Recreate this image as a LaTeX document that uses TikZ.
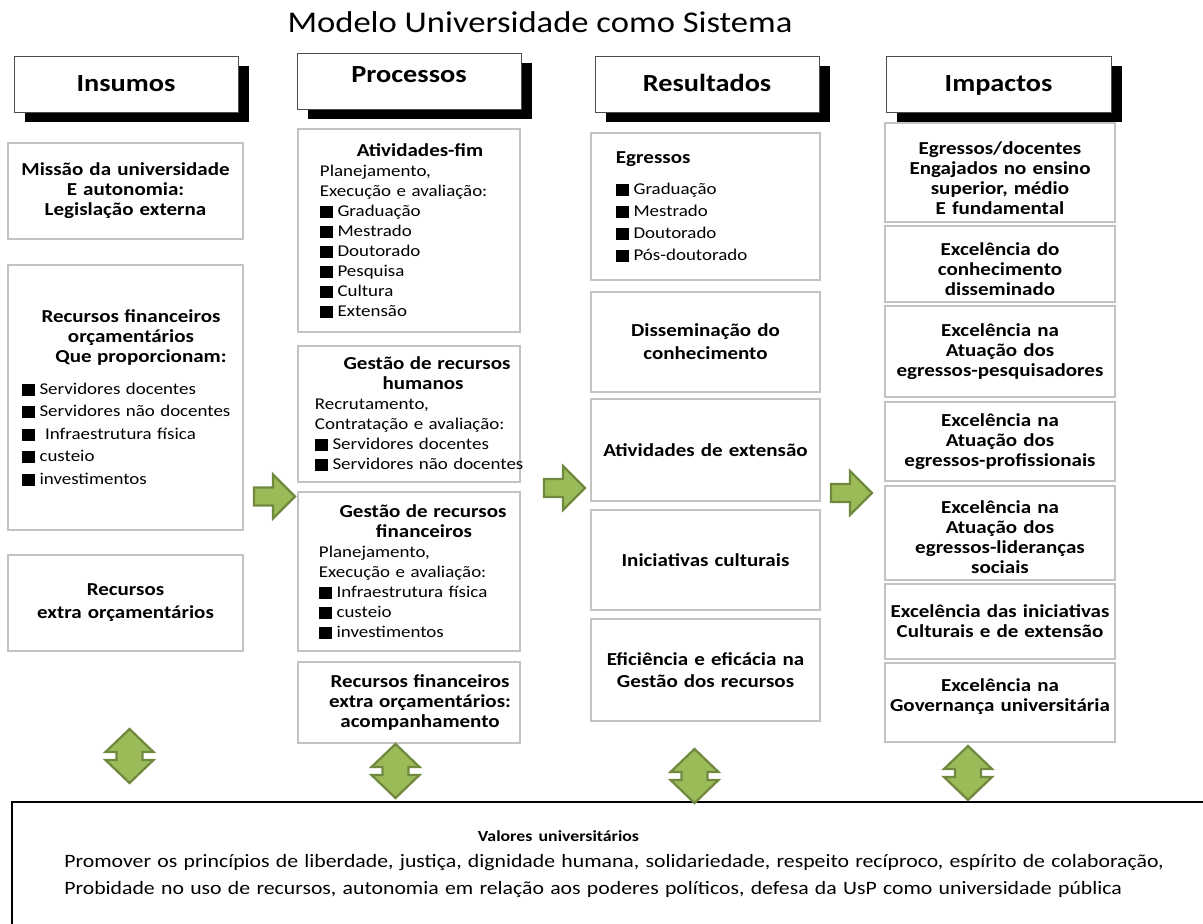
\documentclass[tikz,border=0pt]{standalone}
\usepackage{fontspec}
\setmainfont{Carlito}[FakeStretch=1.15]
\usetikzlibrary{shadows}

\definecolor{boxgray}{RGB}{195,195,195}
\definecolor{arrowfill}{RGB}{155,187,89}
\definecolor{arrowline}{RGB}{113,137,63}

\newcommand{\bfs}{\fontsize{13}{14.2}\selectfont\bfseries}
\newcommand{\ctr}[2][0pt]{\makebox[\linewidth][c]{\hspace*{#1}#2}}
\newcommand{\itm}[1]{\mbox{\rule[-1pt]{9pt}{8.5pt}\hspace{3.5pt}#1}}

\begin{document}
\begin{tikzpicture}[x=0.025cm, y=-0.025cm,
    header/.style={rectangle, draw=black!70, line width=0.6pt, fill=white, minimum width=5.6cm, minimum height=1.4cm, text height=11.3pt, text depth=0pt, font=\fontsize{17.5}{20}\selectfont\bfseries, drop shadow={shadow xshift=0.275cm, shadow yshift=-0.25cm, fill=black, opacity=1}},
    box/.style={rectangle, draw=boxgray, line width=1.5pt, fill=white, inner sep=0pt, font=\fontsize{11.7}{14.2}\selectfont},
    listbox/.style={box, align=left},
    textbox/.style={box, align=center, font=\bfs},
    block/.style={draw=arrowline, fill=arrowfill, line width=1.6pt, line join=miter},
    rarrow/.pic={\draw[block] (-21,-9) -- (-2,-9) -- (-2,-22) -- (20,0) -- (-2,22) -- (-2,9) -- (-21,9) -- cycle;},
    udarrow/.pic={\draw[block] (0,-27) -- (24,-4) -- (13,-4) -- (13,4) -- (24,4) -- (0,27) -- (-24,4) -- (-13,4) -- (-13,-4) -- (-24,-4) -- cycle;}
]
\useasboundingbox (0,0) rectangle (1203,923);

\node[font=\fontsize{21.4}{24}\selectfont] (title) at (540,22) {Modelo Universidade como Sistema};

% cabecalhos
\node[header] (insumos) at (126,84) {Insumos};
\node[header, text depth=8.6pt] (processos) at (409,81) {Processos};
\node[header] (resultados) at (707,84) {Resultados};
\node[header, minimum width=5.625cm] (impactos) at (998.5,84) {Impactos};

% insumos
\node[textbox, minimum width=5.875cm, minimum height=2.4cm, text width=5.6cm] (missao) at (125.5,191) {Missão da universidade\\E autonomia:\\Legislação externa};
\node[listbox, minimum width=5.875cm, minimum height=6.625cm, text width=5.175cm] (orcamento) at (125.5,397.5) {\ctr[0.275cm]{\bfs Recursos financeiros}\\ \ctr[0.275cm]{\bfs orçamentários}\\ \ctr[0.775cm]{\bfs Que proporcionam:}\\[8.5pt] \itm{Servidores docentes}\\[1.8pt] \itm{Servidores não docentes}\\[1.8pt] \itm{\ Infraestrutura física}\\[1.8pt] \itm{custeio}\\[1.8pt] \itm{investimentos}};
\node[textbox, minimum width=5.875cm, minimum height=2.4cm, text width=5.6cm] (extra) at (125.5,603) {Recursos\\[2.2pt] extra orçamentários};

% processos
\node[listbox, minimum width=5.55cm, minimum height=5.075cm, text width=4.45cm] (fim) at (409,230.5) {\ctr[0.55cm]{\bfs Atividades-fim}\\ Planejamento,\\ Execução e avaliação:\\ \itm{Graduação}\\ \itm{Mestrado}\\ \itm{Doutorado}\\ \itm{Pesquisa}\\ \itm{Cultura}\\ \itm{Extensão}};
\node[listbox, minimum width=5.55cm, minimum height=3.4cm, text width=4.7cm] (humanos) at (409,414) {\ctr[0.9cm]{\bfs Gestão de recursos}\\ \ctr[0.7cm]{\bfs humanos}\\ Recrutamento,\\ \mbox{Contratação e avaliação:}\\ \itm{Servidores docentes}\\ \itm{Servidores não docentes}};
\node[listbox, minimum width=5.55cm, minimum height=3.975cm, text width=4.5cm] (financeiros) at (409,571.5) {\ctr[0.7cm]{\bfs Gestão de recursos}\\ \ctr[0.75cm]{\bfs financeiros}\\ Planejamento,\\ Execução e avaliação:\\ \itm{Infraestrutura física}\\ \itm{custeio}\\ \itm{investimentos}};
\node[listbox, minimum width=5.55cm, minimum height=2.025cm, text width=4.45cm] (acompanha) at (409,702.5) {\ctr[0.55cm]{\bfs Recursos financeiros}\\ \ctr[0.55cm]{\bfs extra orçamentários:}\\ \ctr[0.55cm]{\bfs acompanhamento}};

% resultados
\node[listbox, minimum width=5.725cm, minimum height=3.675cm, text width=4.475cm] (egressos) at (705.5,206.5) {{\bfs Egressos}\\[7.8pt] \itm{Graduação}\\[1.4pt] \itm{Mestrado}\\[1.4pt] \itm{Doutorado}\\[1.4pt] \itm{Pós-doutorado}};
\node[textbox, minimum width=5.725cm, minimum height=2.5cm, text width=5.5cm] (disseminacao) at (705.5,342) {Disseminação do\\[2.2pt] conhecimento};
\node[textbox, minimum width=5.725cm, minimum height=2.55cm, text width=5.5cm] (extensao) at (705.5,450) {Atividades de extensão};
\node[textbox, minimum width=5.725cm, minimum height=2.5cm, text width=5.5cm] (culturais) at (705.5,560) {Iniciativas culturais};
\node[textbox, minimum width=5.725cm, minimum height=2.55cm, text width=5.5cm] (eficiencia) at (705.5,670) {Eficiência e eficácia na\\[1.4pt] Gestão dos recursos};

% impactos
\node[textbox, minimum width=5.75cm, minimum height=2.475cm, text width=5.6cm] (engajados) at (1000,172.5) {\rule{0pt}{17.5pt}Egressos/docentes\\ Engajados no ensino\\ superior, médio\\ E fundamental};
\node[textbox, minimum width=5.75cm, minimum height=1.9cm, text width=5.6cm] (disseminado) at (1000,264) {\rule{0pt}{16.8pt}Excelência do\\ conhecimento\\ disseminado};
\node[textbox, minimum width=5.75cm, minimum height=2.275cm, text width=5.6cm] (pesquisadores) at (1000,351.5) {Excelência na\\ Atuação dos\\ \mbox{egressos-pesquisadores}};
\node[textbox, minimum width=5.75cm, minimum height=1.975cm, text width=5.6cm] (profissionais) at (1000,441.5) {Excelência na\\ Atuação dos\\ \mbox{egressos-profissionais}};
\node[textbox, minimum width=5.75cm, minimum height=2.35cm, text width=5.6cm] (liderancas) at (1000,533) {\rule{0pt}{15.5pt}Excelência na\\ Atuação dos\\ egressos-lideranças\\ sociais};
\node[textbox, minimum width=5.75cm, minimum height=1.875cm, text width=5.6cm] (iniciativas) at (1000,621.5) {\mbox{Excelência das iniciativas}\\ Culturais e de extensão};
\node[textbox, minimum width=5.75cm, minimum height=1.975cm, text width=5.6cm] (governanca) at (1000,702.5) {Excelência na\\ \mbox{Governança universitária}\rule[-10pt]{0pt}{0pt}};

% setas entre colunas
\pic at (275,496.5) {rarrow};
\pic at (565,488) {rarrow};
\pic at (852,493) {rarrow};

% valores
\node[draw=black, line width=1.5pt, minimum width=30.075cm, minimum height=3.7cm, inner sep=0pt] (valores) at (613.5,876) {};
\node[align=left, text width=27.4cm, inner sep=0pt, font=\fontsize{13.45}{19}\selectfont] (valtexto) at (612.5,864) {\ctr[-2.7cm]{\fontsize{11}{13}\selectfont\bfseries Valores universitários}\\ \mbox{Promover os princípios de liberdade, justiça, dignidade humana, solidariedade, respeito recíproco, espírito de colaboração,}\\ \mbox{Probidade no uso de recursos, autonomia em relação aos poderes políticos, defesa da UsP como universidade pública}};

\foreach \x/\y in {129.5/756, 395.5/771, 694.5/776, 968/773}
    \pic at (\x,\y) {udarrow};
\end{tikzpicture}
\end{document}
